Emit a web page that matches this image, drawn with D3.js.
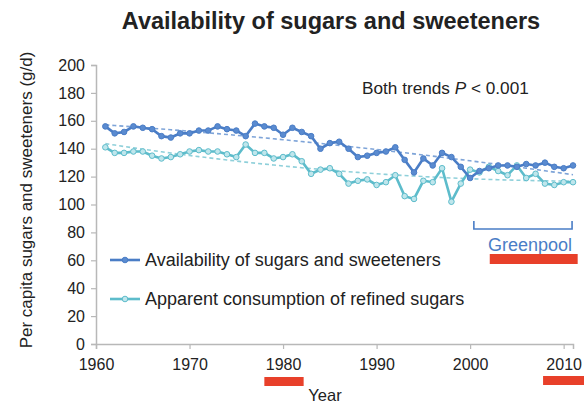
<!DOCTYPE html>
<html>
<head>
<meta charset="utf-8">
<script src="https://cdn.jsdelivr.net/npm/d3@7"></script>
<style>
  html, body { margin: 0; padding: 0; background: #fff; }
  svg { display: block; font-family: "Liberation Sans", Arial, sans-serif; }
</style>
</head>
<body>
<svg id="chart" width="584" height="406"></svg>
<script>
const years = d3.range(1961, 2012);
const availability = [156,151,152,156,155,154,149,148,151,151,
  153,153,156,154,153,149,158,156,155,150,
  155,152,149,140,144,145,140,134,135,137,
  138,141,132,123,133,128,137,134,127,119,
  124,126,128,128,127,129,128,130,127,126,128];
const consumption = [141,137,137,138,138,135,133,134,136,138,
  139,138,138,136,134,143,137,137,133,134,
  136,131,122,125,126,122,115,117,118,114,
  116,121,106,104,117,116,126,102,115,125,
  123,127,124,121,128,119,122,115,114,116,116];
const seriesNames = ["Availability of sugars and sweeteners", "Apparent consumption of refined sugars"];
const xTicks = [1960, 1970, 1980, 1990, 2000, 2010];
const yTicks = [0, 20, 40, 60, 80, 100, 120, 140, 160, 180, 200];
const titleText = "Availability of sugars and sweeteners";
const noteText = ["Both trends ", "P", " < 0.001"];
const groupLabel = "Greenpool";
const groupYears = [2000.4, 2010.9];
const groupBarYears = [2002.1, 2011.5];
const redBarYears = [[1978, 1982.2], [2007.8, 2012.3]];

const svg = d3.select("#chart");
const x = d3.scaleLinear().domain([1960, 2011]).range([96, 573]);
const y = d3.scaleLinear().domain([0, 200]).range([344, 65]);

const darkCol = "#4a7dc6", lightCol = "#5dbccb";
const textCol = "#222";

// title
svg.append("text").attr("x", 331).attr("y", 29).attr("text-anchor", "middle")
  .attr("font-size", 23.5).attr("font-weight", "bold").attr("fill", textCol).text(titleText);

// axes
const yAxis = d3.axisLeft(y).tickValues(yTicks).tickSize(5).tickPadding(6);
const gy = svg.append("g").attr("transform", `translate(${x(1960)},0)`).call(yAxis);
const xAxis = d3.axisBottom(x).tickValues(xTicks).tickFormat(d3.format("d")).tickSize(5).tickPadding(10);
const gx = svg.append("g").attr("transform", `translate(0,${y(0)})`).call(xAxis);
[gy, gx].forEach(g => {
  g.select(".domain").attr("stroke", "#b8b8b8").attr("stroke-width", 1.5);
  g.selectAll(".tick line").attr("stroke", "#b8b8b8").attr("stroke-width", 1.2);
  g.selectAll(".tick text").attr("fill", textCol).attr("font-size", 16)
    .attr("font-family", "Liberation Sans, Arial, sans-serif");
});

// axis titles
svg.append("text").attr("transform", `translate(32,200) rotate(-90)`).attr("text-anchor", "middle")
  .attr("font-size", 17).attr("fill", textCol).text("Per capita sugars and sweeteners (g/d)");
svg.append("text").attr("x", 325).attr("y", 401).attr("text-anchor", "middle")
  .attr("font-size", 16.5).attr("fill", textCol).text("Year");

// quadratic trend fit
function quadFit(xs, ys) {
  const xm = d3.mean(xs);
  const t = xs.map(v => v - xm);
  let S = [0,0,0,0,0], T = [0,0,0];
  t.forEach((ti, i) => {
    for (let k = 0; k < 5; k++) S[k] += Math.pow(ti, k);
    for (let k = 0; k < 3; k++) T[k] += ys[i] * Math.pow(ti, k);
  });
  const A = [[S[0],S[1],S[2]],[S[1],S[2],S[3]],[S[2],S[3],S[4]]];
  const b = T.slice();
  for (let i = 0; i < 3; i++) {
    for (let j = i + 1; j < 3; j++) {
      const f = A[j][i] / A[i][i];
      for (let k = i; k < 3; k++) A[j][k] -= f * A[i][k];
      b[j] -= f * b[i];
    }
  }
  const c = [0,0,0];
  for (let i = 2; i >= 0; i--) {
    let s = b[i];
    for (let k = i + 1; k < 3; k++) s -= A[i][k] * c[k];
    c[i] = s / A[i][i];
  }
  return v => c[0] + c[1] * (v - xm) + c[2] * (v - xm) * (v - xm);
}

const line = d3.line().x(d => x(d[0])).y(d => y(d[1]));
const series = [
  {vals: availability, col: darkCol, trend: "#7ea4d8", fill: "#5a8bd0"},
  {vals: consumption, col: lightCol, trend: "#8fd0da", fill: "#bfe6ec"}
];

series.forEach(s => {
  const f = quadFit(years, s.vals);
  svg.append("path").datum(years.map(v => [v, f(v)])).attr("d", line)
    .attr("fill", "none").attr("stroke", s.trend).attr("stroke-width", 1.6)
    .attr("stroke-dasharray", "4,3");
});
series.slice().reverse().forEach(s => {
  const pts = years.map((v, i) => [v, s.vals[i]]);
  svg.append("path").datum(pts).attr("d", line)
    .attr("fill", "none").attr("stroke", s.col).attr("stroke-width", 2.6);
  svg.append("g").selectAll("circle").data(pts).join("circle")
    .attr("cx", d => x(d[0])).attr("cy", d => y(d[1])).attr("r", 2.8)
    .attr("fill", s.fill).attr("stroke", s.col).attr("stroke-width", 1);
});

// note
const note = svg.append("text").attr("x", 362).attr("y", 94).attr("font-size", 17.2).attr("fill", textCol);
note.append("tspan").text(noteText[0]);
note.append("tspan").attr("font-style", "italic").text(noteText[1]);
note.append("tspan").text(noteText[2]);

// legend
const legY = [260, 299];
series.forEach((s, i) => {
  const g = svg.append("g");
  g.append("line").attr("x1", 110).attr("x2", 140).attr("y1", legY[i]).attr("y2", legY[i])
    .attr("stroke", s.col).attr("stroke-width", 2.6);
  g.append("circle").attr("cx", 125).attr("cy", legY[i]).attr("r", 2.8)
    .attr("fill", s.fill).attr("stroke", s.col);
  g.append("text").attr("x", 145).attr("y", legY[i] + 6).attr("font-size", 18)
    .attr("fill", textCol).text(seriesNames[i]);
});

// Greenpool bracket
const bx0 = x(groupYears[0]), bx1 = x(groupYears[1]);
svg.append("path").attr("d", `M${bx0},221 V229 H${bx1} V221`).attr("fill", "none")
  .attr("stroke", darkCol).attr("stroke-width", 1.6);
svg.append("text").attr("x", (bx0 + bx1) / 2 + 7).attr("y", 251).attr("text-anchor", "middle")
  .attr("font-size", 18).attr("fill", darkCol).text(groupLabel);

// red bars
const red = "#e8402a";
svg.append("rect").attr("x", x(groupBarYears[0])).attr("y", 254)
  .attr("width", x(groupBarYears[1]) - x(groupBarYears[0])).attr("height", 10).attr("fill", red);
redBarYears.forEach((r, i) => {
  svg.append("rect").attr("x", x(r[0])).attr("y", i === 0 ? 377 : 376)
    .attr("width", x(r[1]) - x(r[0])).attr("height", 9).attr("fill", red);
});
</script>
</body>
</html>
